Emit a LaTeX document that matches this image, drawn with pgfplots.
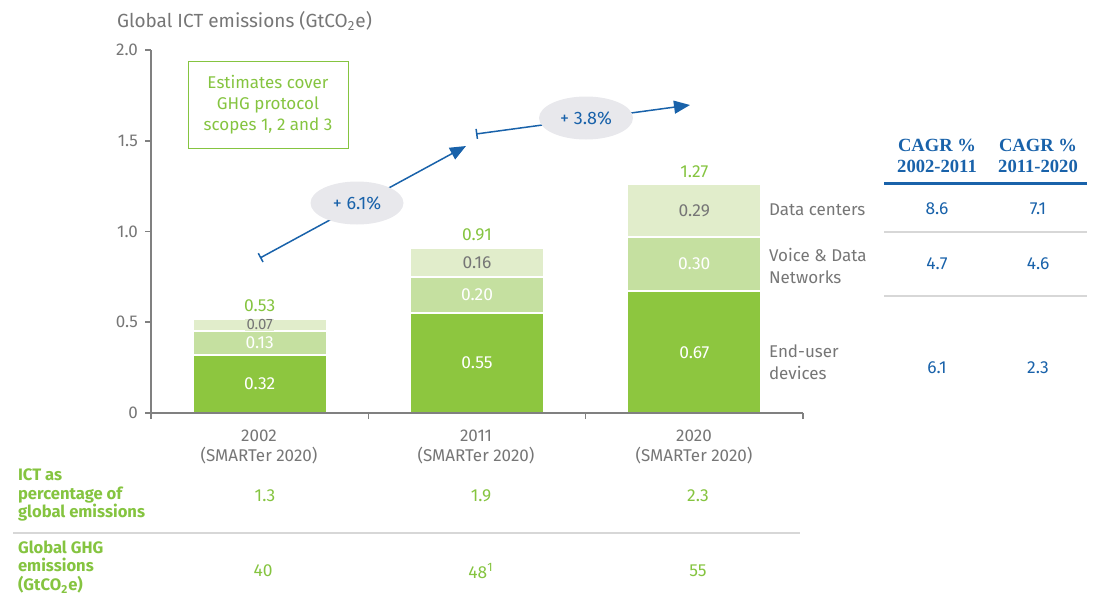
\documentclass[border=0pt]{standalone}
\usepackage{fontspec}
\setmainfont{Fira Sans}
\newfontfamily\serifb{Liberation Serif}
\usepackage{pgfplots}
\pgfplotsset{compat=1.18}
\usetikzlibrary{arrows.meta}
\definecolor{gA}{RGB}{141,198,63}
\definecolor{gB}{RGB}{197,224,160}
\definecolor{gC}{RGB}{225,237,203}
\definecolor{gT}{RGB}{133,196,64}
\definecolor{txt}{RGB}{118,118,118}
\definecolor{bl}{RGB}{25,98,170}
\definecolor{ell}{RGB}{232,232,236}
\definecolor{ax}{RGB}{128,128,128}
\definecolor{sep}{RGB}{215,215,215}
\newcommand{\fs}[1]{\fontsize{#1}{#1}\selectfont}
\begin{document}
\begin{tikzpicture}
\begin{axis}[
  at={(75.5pt,91.5pt)}, anchor=south west,
  scale only axis, width=326pt, height=181.5pt,
  xmin=-0.5, xmax=2.5, ymin=0, ymax=2,
  axis x line*=bottom, axis y line*=left,
  axis line style={ax, line width=0.8pt, -},
  xtick={-0.5,0.5,1.5,2.5}, xticklabels={},
  ytick={0,0.5,1,1.5,2}, yticklabels={0,0.5,1.0,1.5,2.0},
  tick align=outside, major tick length=3pt, tick style={ax, line width=0.8pt},
  yticklabel style={font=\fs{8.5}, text=txt},
  ybar stacked, bar width=67pt,
  axis on top, clip=false,
]
\addplot[fill=gA, draw=white, line width=1pt] coordinates {(0,0.32) (1,0.55) (2,0.67)};
\addplot[fill=gB, draw=white, line width=1pt] coordinates {(0,0.13) (1,0.20) (2,0.30)};
\addplot[fill=gC, draw=white, line width=1pt] coordinates {(0,0.07) (1,0.16) (2,0.29)};
\coordinate (a1) at (axis cs:0,0.16);
\coordinate (a2) at (axis cs:0,0.385);
\coordinate (a3) at (axis cs:0,0.485);
\coordinate (b1) at (axis cs:1,0.275);
\coordinate (b2) at (axis cs:1,0.65);
\coordinate (b3) at (axis cs:1,0.83);
\coordinate (c1) at (axis cs:2,0.335);
\coordinate (c2) at (axis cs:2,0.82);
\coordinate (c3) at (axis cs:2,1.115);
\coordinate (at) at (axis cs:0,0.52);
\coordinate (bt) at (axis cs:1,0.91);
\coordinate (ct) at (axis cs:2,1.26);
\end{axis}
% segment labels
\node[text=white, font=\fs{8.7}] at (a1) {0.32};
\node[text=white, font=\fs{8.7}] at (a2) {0.13};
\node[text=txt, font=\fs{7.5}, fill=gC, inner sep=0.6pt] at (a3) {0.07};
\node[text=white, font=\fs{8.7}] at (b1) {0.55};
\node[text=white, font=\fs{8.7}] at (b2) {0.20};
\node[text=txt, font=\fs{8.7}] at (b3) {0.16};
\node[text=white, font=\fs{8.7}] at (c1) {0.67};
\node[text=white, font=\fs{8.7}] at (c2) {0.30};
\node[text=txt, font=\fs{8.7}] at (c3) {0.29};
% totals
\node[text=gT, font=\fs{8.7}, anchor=south] at (at) {0.53};
\node[text=gT, font=\fs{8.7}, anchor=south] at (bt) {0.91};
\node[text=gT, font=\fs{8.7}, anchor=south] at (ct) {1.27};
\begin{scope}[x=0.5pt, y=-0.5pt, shift={(0pt,298pt)}]
% title
\node[anchor=west, text=txt, font=\fs{9.5}] at (110,21) {Global ICT emissions (GtCO\textsubscript{2}e)};
% note box
\node[draw=gT, line width=0.5pt, minimum width=80pt, minimum height=43.5pt, align=center, text=gT, font=\fontsize{8.5}{10.5}\selectfont] at (268,104.5) {Estimates cover\\GHG protocol\\scopes 1, 2 and 3};
% arrows
\draw[bl, line width=0.75pt, {Bar[width=5pt]}-{Triangle[length=8pt,width=6.5pt]}] (260,258) -- (466,146);
\fill[ell] (357,203) ellipse [x radius=46.5, y radius=21.5];
\node[text=bl, font=\fs{9}] at (357,203) {+ 6.1\%};
\draw[bl, line width=0.75pt, {Bar[width=5pt]}-{Triangle[length=8pt,width=6.5pt]}] (476,134) -- (690,105);
\fill[ell] (586,118) ellipse [x radius=47, y radius=21.5];
\node[text=bl, font=\fs{9}] at (586,118) {+ 3.8\%};
% category labels
\node[align=center, text=txt, font=\fontsize{8.5}{10}\selectfont] at (259,447) {2002\\(SMARTer 2020)};
\node[align=center, text=txt, font=\fontsize{8.5}{10}\selectfont] at (476,447) {2011\\(SMARTer 2020)};
\node[align=center, text=txt, font=\fontsize{8.5}{10}\selectfont] at (694,447) {2020\\(SMARTer 2020)};
% right labels
\node[anchor=west, text=txt, font=\fs{8.5}] at (762,210) {Data centers};
\node[anchor=west, align=left, text=txt, font=\fontsize{8.5}{11}\selectfont] at (762,266) {Voice \& Data\\Networks};
\node[anchor=west, align=left, text=txt, font=\fontsize{8.5}{11}\selectfont] at (762,362) {End-user\\devices};
% CAGR table
\node[align=center, text=bl, font=\serifb\bfseries\fontsize{9.3}{10.5}\selectfont] at (937,156) {CAGR \%\\2002-2011};
\node[align=center, text=bl, font=\serifb\bfseries\fontsize{9.3}{10.5}\selectfont] at (1038,156) {CAGR \%\\2011-2020};
\draw[bl, line width=1.5pt] (884,183) -- (1087,183);
\draw[sep, line width=0.6pt] (884,232) -- (1087,232);
\draw[sep, line width=0.6pt] (884,296) -- (1087,296);
\node[text=bl, font=\fs{8.7}] at (937,209) {8.6};
\node[text=bl, font=\fs{8.7}] at (1038,209) {7.1};
\node[text=bl, font=\fs{8.7}] at (937,264) {4.7};
\node[text=bl, font=\fs{8.7}] at (1038,264) {4.6};
\node[text=bl, font=\fs{8.7}] at (937,368) {6.1};
\node[text=bl, font=\fs{8.7}] at (1038,368) {2.3};
% bottom table
\node[anchor=west, align=left, text=gT, font=\bfseries\fontsize{8.3}{9.3}\selectfont] at (11,495) {ICT as\\percentage of\\global emissions};
\node[text=gT, font=\fs{8.7}] at (265,496) {1.3};
\node[text=gT, font=\fs{8.7}] at (481,496) {1.9};
\node[text=gT, font=\fs{8.7}] at (698,496) {2.3};
\draw[sep, line width=0.8pt] (13,533) -- (800,533);
\node[anchor=west, align=left, text=gT, font=\bfseries\fontsize{8.3}{9.3}\selectfont] at (11,567) {Global GHG\\emissions\\(GtCO\textsubscript{2}e)};
\node[text=gT, font=\fs{8.7}] at (263,571) {40};
\node[text=gT, font=\fs{8.7}] at (481,571) {48\textsuperscript{1}};
\node[text=gT, font=\fs{8.7}] at (698,571) {55};
\pgfresetboundingbox
\path (0,0) rectangle (1095,596);
\end{scope}
\end{tikzpicture}
\end{document}
